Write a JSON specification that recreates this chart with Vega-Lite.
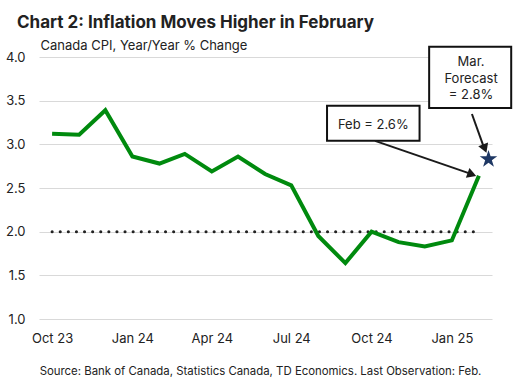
{
  "$schema": "https://vega.github.io/schema/vega-lite/v6.json",
  "width": 453,
  "height": 262,
  "autosize": "none",
  "padding": {"left": 39, "top": 57, "right": 24, "bottom": 67},
  "background": "white",
  "title": {
    "text": "Chart 2: Inflation Moves Higher in February",
    "anchor": "start",
    "frame": "group",
    "dx": -22,
    "fontSize": 17,
    "fontWeight": "bold",
    "font": "Inter",
    "color": "#222222",
    "baseline": "alphabetic",
    "offset": -6
  },
  "datasets": {
    "cpi": [
      {"date": "2023-10-01T00:00", "value": 3.12},
      {"date": "2023-11-01T00:00", "value": 3.11},
      {"date": "2023-12-01T00:00", "value": 3.39},
      {"date": "2024-01-01T00:00", "value": 2.86},
      {"date": "2024-02-01T00:00", "value": 2.78},
      {"date": "2024-03-01T00:00", "value": 2.89},
      {"date": "2024-04-01T00:00", "value": 2.69},
      {"date": "2024-05-01T00:00", "value": 2.86},
      {"date": "2024-06-01T00:00", "value": 2.66},
      {"date": "2024-07-01T00:00", "value": 2.53},
      {"date": "2024-08-01T00:00", "value": 1.95},
      {"date": "2024-09-01T00:00", "value": 1.64},
      {"date": "2024-10-01T00:00", "value": 2.0},
      {"date": "2024-11-01T00:00", "value": 1.88},
      {"date": "2024-12-01T00:00", "value": 1.83},
      {"date": "2025-01-01T00:00", "value": 1.9},
      {"date": "2025-02-01T00:00", "value": 2.64}
    ],
    "target": [
      {"start": "2023-10-01T00:00", "end": "2025-02-01T00:00", "value": 2.0}
    ],
    "forecast": [
      {"date": "2025-02-12T00:00", "value": 2.83}
    ],
    "boxes": [
      {"x1": "2024-08-11T00:00", "x2": "2024-11-25T00:00", "y1": 3.442, "y2": 3.041},
      {"x1": "2024-12-06T00:00", "x2": "2025-03-10T00:00", "y1": 4.118, "y2": 3.416}
    ],
    "labels": [
      {"date": "2024-10-03T00:00", "value": 3.221, "label": "Feb = 2.6%"},
      {"date": "2025-01-23T00:00", "value": 3.943, "label": "Mar."},
      {"date": "2025-01-23T00:00", "value": 3.748, "label": "Forecast"},
      {"date": "2025-01-23T00:00", "value": 3.565, "label": "= 2.8%"}
    ],
    "arrows": [
      {"x1": "2024-10-05T00:00", "y1": 3.04, "x2": "2025-01-22T00:00", "y2": 2.665, "hx": "2025-01-24T00:00", "hy": 2.656, "angle": 20},
      {"x1": "2025-01-24T00:00", "y1": 3.347, "x2": "2025-02-06T00:00", "y2": 2.986, "hx": "2025-02-07T18:00", "hy": 2.951, "angle": 69}
    ]
  },
  "layer": [
    {
      "data": {"name": "target"},
      "mark": {"type": "rule", "color": "#222222", "strokeWidth": 3, "strokeDash": [0.1, 8], "strokeCap": "round"},
      "encoding": {
        "x": {"field": "start", "type": "temporal"},
        "x2": {"field": "end"},
        "y": {"field": "value", "type": "quantitative"}
      }
    },
    {
      "data": {"name": "cpi"},
      "mark": {"type": "line", "color": "#008a0e", "strokeWidth": 4, "strokeJoin": "miter"},
      "encoding": {
        "x": {
          "field": "date",
          "type": "temporal",
          "scale": {"domain": [{"year": 2023, "month": 9, "date": 16}, {"year": 2025, "month": 2, "date": 16}]},
          "axis": {
            "values": [
              {"year": 2023, "month": 10, "date": 1},
              {"year": 2024, "month": 1, "date": 1},
              {"year": 2024, "month": 4, "date": 1},
              {"year": 2024, "month": 7, "date": 1},
              {"year": 2024, "month": 10, "date": 1},
              {"year": 2025, "month": 1, "date": 1}
            ],
            "format": "%b %y",
            "grid": false,
            "ticks": false,
            "domain": false,
            "labelPadding": 13,
            "labelFontSize": 13,
            "labelColor": "#222222",
            "title": "Source: Bank of Canada, Statistics Canada, TD Economics. Last Observation: Feb.",
            "titleFontSize": 11.4,
            "titleFontWeight": "normal",
            "titleColor": "#222222",
            "titleX": 221,
            "titleY": 55,
            "titleAlign": "center",
            "titleBaseline": "alphabetic"
          }
        },
        "y": {
          "field": "value",
          "type": "quantitative",
          "scale": {"domain": [1, 4], "nice": false, "zero": false},
          "axis": {
            "values": [1, 1.5, 2, 2.5, 3, 3.5, 4],
            "format": ".1f",
            "grid": true,
            "gridColor": "#d9d9d9",
            "gridWidth": 1,
            "ticks": false,
            "domain": false,
            "labelPadding": 14,
            "labelFontSize": 13,
            "labelColor": "#222222",
            "title": "Canada CPI, Year/Year % Change",
            "titleAngle": 0,
            "titleFontSize": 13,
            "titleFontWeight": "normal",
            "titleColor": "#222222",
            "titleX": 1,
            "titleY": -8,
            "titleAlign": "left",
            "titleBaseline": "alphabetic"
          }
        }
      }
    },
    {
      "data": {"name": "boxes"},
      "mark": {"type": "rect", "fill": "white", "stroke": "#111111", "strokeWidth": 2},
      "encoding": {
        "x": {"field": "x1", "type": "temporal"},
        "x2": {"field": "x2"},
        "y": {"field": "y1", "type": "quantitative"},
        "y2": {"field": "y2"}
      }
    },
    {
      "data": {"name": "labels"},
      "mark": {"type": "text", "fontSize": 13, "color": "#222222", "align": "center", "baseline": "middle"},
      "encoding": {
        "x": {"field": "date", "type": "temporal"},
        "y": {"field": "value", "type": "quantitative"},
        "text": {"field": "label"}
      }
    },
    {
      "data": {"name": "arrows"},
      "mark": {"type": "rule", "color": "#1a1a1a", "strokeWidth": 2},
      "encoding": {
        "x": {"field": "x1", "type": "temporal"},
        "x2": {"field": "x2"},
        "y": {"field": "y1", "type": "quantitative"},
        "y2": {"field": "y2"}
      }
    },
    {
      "data": {"name": "arrows"},
      "mark": {"type": "point", "shape": "triangle-right", "filled": true, "color": "#1a1a1a", "size": 110, "opacity": 1},
      "encoding": {
        "x": {"field": "hx", "type": "temporal"},
        "y": {"field": "hy", "type": "quantitative"},
        "angle": {"field": "angle", "type": "quantitative", "scale": null}
      }
    },
    {
      "data": {"name": "forecast"},
      "mark": {
        "type": "point",
        "shape": "M0,-1L0.2245,-0.309L0.951,-0.309L0.3633,0.118L0.5878,0.809L0,0.382L-0.5878,0.809L-0.3633,0.118L-0.951,-0.309L-0.2245,-0.309Z",
        "filled": true,
        "color": "#1f3864",
        "size": 340,
        "opacity": 1
      },
      "encoding": {
        "x": {"field": "date", "type": "temporal"},
        "y": {"field": "value", "type": "quantitative"}
      }
    }
  ],
  "config": {
    "font": "Inter",
    "view": {"stroke": null}
  }
}
